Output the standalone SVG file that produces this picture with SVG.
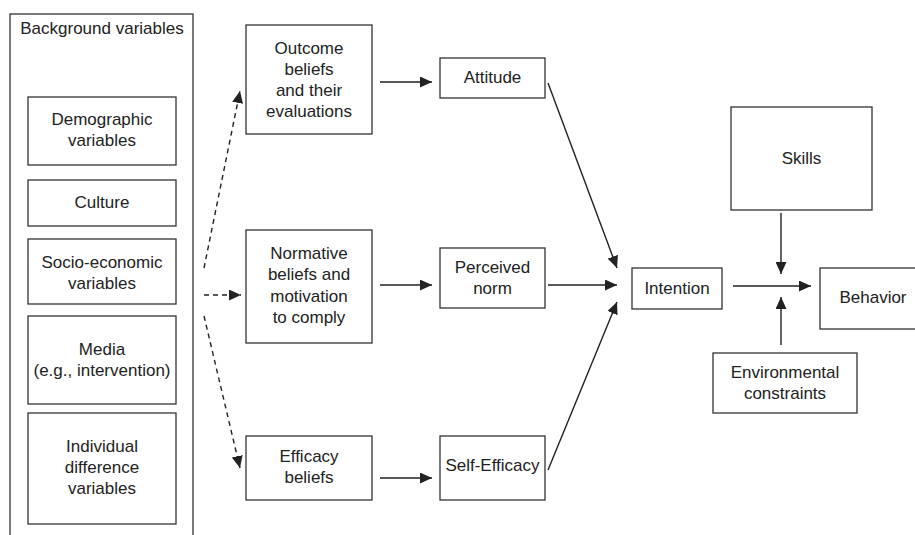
<svg xmlns="http://www.w3.org/2000/svg" width="915" height="535" viewBox="0 0 915 535">
<style>
.box{fill:#fff;stroke:#333;stroke-width:1.3}
text{font-family:"Liberation Sans",Arial,sans-serif;font-size:17px;fill:#222;text-anchor:middle}
.c{fill:none;stroke:#222;stroke-width:1.4}
.d{stroke-dasharray:5,4}
</style>
<defs>
<marker id="ah" markerUnits="userSpaceOnUse" markerWidth="13" markerHeight="11" refX="12" refY="5.5" orient="auto">
<path d="M0,0 L12,5.5 L0,11 Z" fill="#222"/>
</marker>
</defs>
<rect width="915" height="535" fill="#fff"/>
<g id="background">
<rect class="box" x="10" y="14" width="183" height="530"/>
<text x="102" y="34">Background variables</text>
</g>
<g id="demographic"><rect class="box" x="28" y="97" width="148" height="68"/><text x="102" y="125">Demographic</text><text x="102" y="146">variables</text></g>
<g id="culture"><rect class="box" x="28" y="180" width="148" height="46"/><text x="102" y="208">Culture</text></g>
<g id="socio"><rect class="box" x="28" y="239" width="148" height="65"/><text x="102" y="268">Socio-economic</text><text x="102" y="289">variables</text></g>
<g id="media"><rect class="box" x="28" y="316" width="148" height="88"/><text x="102" y="355">Media</text><text x="102" y="376">(e.g., intervention)</text></g>
<g id="individual"><rect class="box" x="28" y="413" width="148" height="111"/><text x="102" y="452">Individual</text><text x="102" y="473">difference</text><text x="102" y="494">variables</text></g>
<g id="outcome"><rect class="box" x="246" y="25" width="126" height="109"/><text x="309" y="54">Outcome</text><text x="309" y="75">beliefs</text><text x="309" y="96">and their</text><text x="309" y="117">evaluations</text></g>
<g id="normative"><rect class="box" x="246" y="230" width="126" height="113"/><text x="309" y="259">Normative</text><text x="309" y="280">beliefs and</text><text x="309" y="302">motivation</text><text x="309" y="323">to comply</text></g>
<g id="efficacy"><rect class="box" x="246" y="436" width="126" height="64"/><text x="309" y="462">Efficacy</text><text x="309" y="483">beliefs</text></g>
<g id="attitude"><rect class="box" x="440" y="58" width="105" height="40"/><text x="492.5" y="83">Attitude</text></g>
<g id="norm"><rect class="box" x="440" y="248" width="105" height="60"/><text x="492.5" y="273">Perceived</text><text x="492.5" y="294">norm</text></g>
<g id="selfefficacy"><rect class="box" x="440" y="436" width="105" height="64"/><text x="492.5" y="471">Self-Efficacy</text></g>
<g id="intention"><rect class="box" x="632" y="268" width="90" height="41"/><text x="677" y="294">Intention</text></g>
<g id="skills"><rect class="box" x="731" y="107" width="141" height="103"/><text x="801.5" y="164">Skills</text></g>
<g id="behavior"><rect class="box" x="820" y="268" width="100" height="61"/><text x="873" y="303">Behavior</text></g>
<g id="environment"><rect class="box" x="713" y="353" width="144" height="60"/><text x="785" y="378">Environmental</text><text x="785" y="399">constraints</text></g>
<g id="connectors">
<line class="c d" x1="204" y1="268" x2="240" y2="91" marker-end="url(#ah)"/>
<line class="c d" x1="204" y1="295" x2="241" y2="295" marker-end="url(#ah)"/>
<line class="c d" x1="204" y1="316" x2="240" y2="468" marker-end="url(#ah)"/>
<line class="c" x1="380" y1="82" x2="432" y2="82" marker-end="url(#ah)"/>
<line class="c" x1="380" y1="285" x2="432" y2="285" marker-end="url(#ah)"/>
<line class="c" x1="380" y1="478" x2="432" y2="478" marker-end="url(#ah)"/>
<line class="c" x1="548" y1="83" x2="617" y2="268" marker-end="url(#ah)"/>
<line class="c" x1="548" y1="285" x2="617" y2="285" marker-end="url(#ah)"/>
<line class="c" x1="548" y1="470" x2="617" y2="302" marker-end="url(#ah)"/>
<line class="c" x1="733" y1="286" x2="811" y2="286" marker-end="url(#ah)"/>
<line class="c" x1="781" y1="213" x2="781" y2="274" marker-end="url(#ah)"/>
<line class="c" x1="781" y1="345" x2="781" y2="297" marker-end="url(#ah)"/>
</g>
</svg>
